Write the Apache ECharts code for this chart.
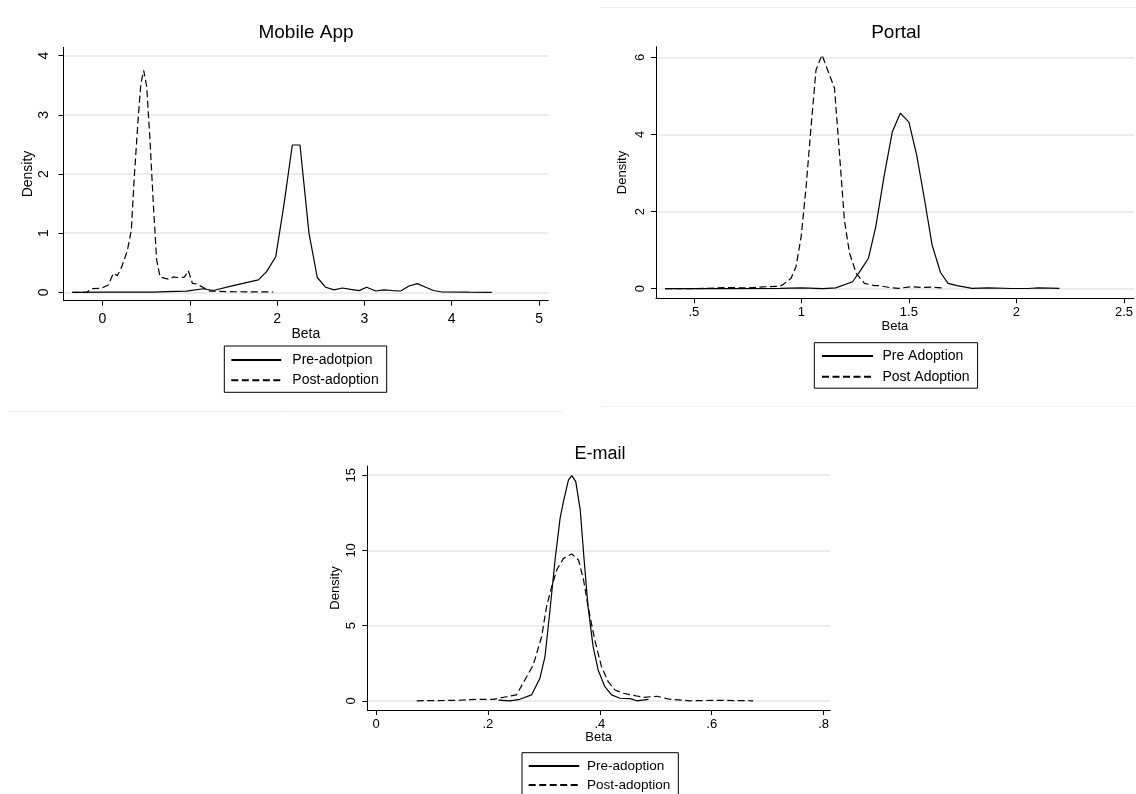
<!DOCTYPE html>
<html><head><meta charset="utf-8">
<script src="https://cdn.jsdelivr.net/npm/echarts@6/dist/echarts.min.js"></script>
<style>html,body{margin:0;padding:0;background:#fff}#c{width:1136px;height:794px}</style>
</head><body><div id="c"></div>
<script>
// ---------- data ----------
const mobilePreX = [-0.346, 0.0, 0.3, 0.58, 0.735, 0.96, 1.155, 1.27, 1.46, 1.785, 1.88, 1.984, 2.08, 2.174, 2.262, 2.365, 2.46, 2.556, 2.652, 2.747, 2.843, 2.938, 3.026, 3.129, 3.224, 3.32, 3.416, 3.51, 3.606, 3.702, 3.79, 3.892, 4.2, 4.458];
const mobilePreY = [0, 0.002, 0.003, 0.004, 0.012, 0.02, 0.06, 0.03, 0.1, 0.21, 0.35, 0.6, 1.5, 2.49, 2.49, 1.0, 0.25, 0.085, 0.04, 0.073, 0.05, 0.028, 0.085, 0.022, 0.04, 0.03, 0.022, 0.106, 0.146, 0.085, 0.03, 0.005, 0.002, 0];
const mobilePostX = [-0.346, -0.181, -0.124, -0.01, 0.067, 0.124, 0.17, 0.22, 0.284, 0.33, 0.364, 0.41, 0.44, 0.472, 0.506, 0.544, 0.582, 0.62, 0.66, 0.716, 0.765, 0.81, 0.85, 0.888, 0.934, 0.983, 1.03, 1.08, 1.155, 1.23, 1.5, 1.957];
const mobilePostY = [0, 0, 0.061, 0.07, 0.123, 0.32, 0.28, 0.43, 0.70, 1.05, 1.95, 2.97, 3.53, 3.75, 3.48, 2.57, 1.50, 0.55, 0.26, 0.235, 0.22, 0.26, 0.25, 0.26, 0.25, 0.365, 0.15, 0.14, 0.08, 0.02, 0.01, 0.005];

const portalPreX = [0.366, 0.6, 0.9, 1.0, 1.1, 1.16, 1.238, 1.276, 1.312, 1.346, 1.384, 1.423, 1.46, 1.5, 1.536, 1.573, 1.608, 1.647, 1.682, 1.724, 1.793, 1.87, 1.978, 2.056, 2.1, 2.2];
const portalPreY = [0, 0.002, 0.01, 0.02, 0.0, 0.02, 0.18, 0.48, 0.79, 1.61, 2.9, 4.07, 4.55, 4.32, 3.47, 2.3, 1.13, 0.42, 0.14, 0.08, 0.01, 0.02, 0.005, 0.005, 0.02, 0.01];
const portalPostX = [0.366, 0.5, 0.651, 0.75, 0.837, 0.898, 0.913, 0.952, 0.975, 0.999, 1.022, 1.045, 1.068, 1.096, 1.122, 1.154, 1.177, 1.2, 1.224, 1.255, 1.293, 1.34, 1.361, 1.41, 1.454, 1.508, 1.562, 1.608, 1.662];
const portalPostY = [0, 0, 0.03, 0.02, 0.05, 0.06, 0.1, 0.27, 0.57, 1.35, 2.64, 4.2, 5.67, 6.06, 5.67, 5.2, 3.51, 1.78, 0.92, 0.4, 0.14, 0.08, 0.08, 0.03, 0.01, 0.05, 0.03, 0.04, 0.015];

const emailPreX = [0.219, 0.2395, 0.257, 0.278, 0.293, 0.302, 0.311, 0.32, 0.329, 0.335, 0.344, 0.35, 0.357, 0.365, 0.372, 0.379, 0.388, 0.397, 0.409, 0.421, 0.436, 0.454, 0.466, 0.487];
const emailPreY = [0.05, 0, 0.1, 0.39, 1.5, 2.93, 6.04, 9.36, 12.13, 13.24, 14.68, 14.97, 14.57, 12.69, 9.36, 6.26, 3.6, 2.05, 0.94, 0.39, 0.17, 0.14, 0.0, 0.1];
const emailPostX = [0.0727, 0.144, 0.18, 0.21, 0.2305, 0.251, 0.266, 0.281, 0.296, 0.305, 0.314, 0.323, 0.335, 0.35, 0.362, 0.371, 0.379, 0.391, 0.403, 0.415, 0.427, 0.442, 0.466, 0.478, 0.502, 0.525, 0.561, 0.609, 0.674];
const emailPostY = [0, 0.03, 0.1, 0.1, 0.25, 0.39, 1.38, 2.38, 4.26, 6.3, 7.59, 8.7, 9.47, 9.76, 9.36, 8.03, 6.26, 4.04, 2.27, 1.27, 0.72, 0.5, 0.32, 0.23, 0.3, 0.1, 0.0, 0.03, 0];

const panelTitles = ['Mobile App', 'Portal', 'E-mail'];
const legendNames = [['Pre-adotpion', 'Post-adoption'], ['Pre Adoption', 'Post Adoption'], ['Pre-adoption', 'Post-adoption']];
const mobileXTicks = [0, 1, 2, 3, 4, 5];
const mobileYTicks = [0, 1, 2, 3, 4];
const portalXTicks = [0.5, 1, 1.5, 2, 2.5];
const portalYTicks = [0, 2, 4, 6];
const emailXTicks = [0, 0.2, 0.4, 0.6, 0.8];
const emailYTicks = [0, 5, 10, 15];

// ---------- helpers ----------
const FONT = 'Liberation Sans, Arial, sans-serif';
const zip = (xs, ys) => xs.map((x, i) => [x, ys[i]]);
const fmt = v => String(+Number(v).toFixed(3)).replace(/^0\./, '.').replace(/^-0\./, '-.');

function xAx(gi, min, max, ticks, fs, margin, gap) {
  return {
    type: 'value', gridIndex: gi, min, max,
    name: 'Beta', nameLocation: 'middle', nameGap: gap,
    nameTextStyle: { color: '#000', fontSize: fs, fontFamily: FONT },
    axisLine: { show: true, onZero: false, lineStyle: { color: '#000', width: 1 } },
    axisTick: { show: true, length: 5, customValues: ticks, lineStyle: { color: '#000', width: 1 } },
    axisLabel: { customValues: ticks, formatter: fmt, margin, color: '#000', fontSize: fs, fontFamily: FONT, showMinLabel: true, showMaxLabel: true },
    splitLine: { show: false }
  };
}
function yAx(gi, min, max, ticks, fs, margin, gap) {
  return {
    type: 'value', gridIndex: gi, min, max,
    name: 'Density', nameLocation: 'middle', nameGap: gap, nameRotate: 90,
    nameTextStyle: { color: '#000', fontSize: fs, fontFamily: FONT },
    axisLine: { show: true, onZero: false, lineStyle: { color: '#000', width: 1 } },
    axisTick: { show: true, length: 5, customValues: ticks, lineStyle: { color: '#000', width: 1 } },
    axisLabel: { customValues: ticks, formatter: fmt, rotate: 90, margin, color: '#000', fontSize: fs, fontFamily: FONT },
    splitLine: { show: true, lineStyle: { color: '#e6e6e6', width: 1.6 } }
  };
}
function ser(name, gi, xs, ys, dashed) {
  return {
    type: 'line', name, xAxisIndex: gi, yAxisIndex: gi, data: zip(xs, ys),
    symbol: 'none', showSymbol: false, silent: true, animation: false,
    lineStyle: { color: '#000', width: 1.2, type: dashed ? [7, 3.5] : 'solid' }
  };
}
function leg(names, left, top, padding, gap, iw, fs, tpad) {
  return {
    data: names, orient: 'vertical', left, top, height: 80, padding, itemGap: gap,
    itemWidth: iw, itemHeight: 14, selectedMode: false,
    borderColor: '#000', borderWidth: 1, borderRadius: 0, backgroundColor: '#fff',
    itemStyle: { color: 'rgba(0,0,0,0)', borderWidth: 0, opacity: 0 },
    textStyle: { color: '#000', fontSize: fs, fontFamily: FONT, lineHeight: 14, padding: [0, 0, 0, tpad] }
  };
}
function ttl(text, cx, top, fs) {
  return { text, left: cx, top, padding: 0, textAlign: 'center',
    textStyle: { fontSize: fs, fontWeight: 'normal', color: '#000', fontFamily: FONT } };
}

const chart = echarts.init(document.getElementById('c'), null, { renderer: 'canvas' });
chart.setOption({
  backgroundColor: '#fff',
  animation: false,
  title: [
    ttl(panelTitles[0], 306, 23.5, 19),
    ttl(panelTitles[1], 896, 23.5, 19),
    ttl(panelTitles[2], 600, 445, 18)
  ],
  grid: [
    { left: 63.5, top: 47.3, width: 484.7, height: 253.4 },
    { left: 656, top: 46.7, width: 480, height: 251.6 },
    { left: 367.3, top: 466, width: 462.7, height: 244 }
  ],
  xAxis: [
    xAx(0, -0.4467, 5.105, mobileXTicks, 14, 11.5, 23),
    xAx(1, 0.324, 2.546, portalXTicks, 13, 8, 21.5),
    xAx(2, -0.01555, 0.8114, emailXTicks, 13, 7.5, 20)
  ],
  yAxis: [
    yAx(0, -0.142, 4.142, mobileYTicks, 14, 12, 28),
    yAx(1, -0.249, 6.274, portalYTicks, 13, 9, 27),
    yAx(2, -0.612, 15.61, emailYTicks, 13, 9, 25)
  ],
  legend: [
    leg(legendNames[0], 224.3, 346, [7, 8, 5, 6], 6.3, 50, 14, 6),
    leg(legendNames[1], 814.3, 342.7, [6.3, 8, 4.5, 6.7], 6.7, 51, 14, 4.4),
    leg(legendNames[2], 522, 752.7, [6.3, 8, 5, 5.7], 5, 50.6, 13.5, 2.7)
  ],
  series: [
    ser(legendNames[0][0], 0, mobilePreX, mobilePreY, false),
    ser(legendNames[0][1], 0, mobilePostX, mobilePostY, true),
    ser(legendNames[1][0], 1, portalPreX, portalPreY, false),
    ser(legendNames[1][1], 1, portalPostX, portalPostY, true),
    ser(legendNames[2][0], 2, emailPreX, emailPreY, false),
    ser(legendNames[2][1], 2, emailPostX, emailPostY, true)
  ],
  graphic: [
    { type: 'line', silent: true, shape: { x1: 8, y1: 411.5, x2: 563, y2: 411.5 }, style: { stroke: '#eeeeee', lineWidth: 1 } },
    { type: 'line', silent: true, shape: { x1: 600, y1: 7.5, x2: 1136, y2: 7.5 }, style: { stroke: '#eeeeee', lineWidth: 1 } },
    { type: 'line', silent: true, shape: { x1: 601, y1: 406.5, x2: 1136, y2: 406.5 }, style: { stroke: '#eeeeee', lineWidth: 1 } }
  ]
});
</script></body></html>
